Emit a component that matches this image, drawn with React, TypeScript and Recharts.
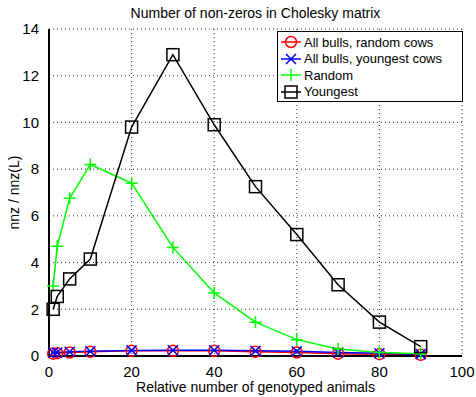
import React from 'react';
import { LineChart, Line, XAxis, YAxis, CartesianGrid } from 'recharts';

const xValues = [1, 2, 5, 10, 20, 30, 40, 50, 60, 70, 80, 90];
const bullsRandom = [0.1, 0.12, 0.15, 0.18, 0.22, 0.22, 0.22, 0.18, 0.15, 0.1, 0.08, 0.05];
const bullsYoungest = [0.15, 0.15, 0.18, 0.2, 0.24, 0.25, 0.25, 0.22, 0.2, 0.15, 0.12, 0.08];
const random = [3.0, 4.7, 6.75, 8.2, 7.4, 4.65, 2.7, 1.45, 0.7, 0.3, 0.15, 0.1];
const youngest = [2.0, 2.55, 3.3, 4.15, 9.8, 12.9, 9.9, 7.25, 5.2, 3.05, 1.45, 0.4];

const xTicks = [0, 20, 40, 60, 80, 100];
const yTicks = [0, 2, 4, 6, 8, 10, 12, 14];

const data = xValues.map((x, i) => ({
  x,
  bullsRandom: bullsRandom[i],
  bullsYoungest: bullsYoungest[i],
  random: random[i],
  youngest: youngest[i],
}));

const FONT = '"Liberation Sans", Arial, sans-serif';

const Circle = (props: any) => {
  const { cx, cy, index } = props;
  return <circle key={`c-${index}`} cx={cx} cy={cy} r={5.5} fill="none" stroke="#ff0000" strokeWidth={1.5} />;
};
const Cross = (props: any) => {
  const { cx, cy, index } = props;
  const s = 5;
  return (
    <path key={`x-${index}`} d={`M${cx - s},${cy - s}L${cx + s},${cy + s}M${cx - s},${cy + s}L${cx + s},${cy - s}`} stroke="#0000ff" strokeWidth={1.5} />
  );
};
const Plus = (props: any) => {
  const { cx, cy, index } = props;
  const s = 6;
  return <path key={`p-${index}`} d={`M${cx - s},${cy}L${cx + s},${cy}M${cx},${cy - s}L${cx},${cy + s}`} stroke="#00ff00" strokeWidth={1.5} />;
};
const Square = (props: any) => {
  const { cx, cy, index } = props;
  const s = 6;
  return <rect key={`s-${index}`} x={cx - s} y={cy - s} width={2 * s} height={2 * s} fill="none" stroke="#000" strokeWidth={1.5} />;
};

const legendItems = [
  { label: 'All bulls, random cows', color: '#ff0000', mark: 'circle' },
  { label: 'All bulls, youngest cows', color: '#0000ff', mark: 'cross' },
  { label: 'Random', color: '#00ff00', mark: 'plus' },
  { label: 'Youngest', color: '#000000', mark: 'square' },
];

function LegendMark({ color, mark }: { color: string; mark: string }) {
  return (
    <svg width={22} height={14} style={{ display: 'block' }}>
      <line x1={1} y1={7} x2={21} y2={7} stroke={color} strokeWidth={1.5} />
      {mark === 'circle' && <circle cx={11} cy={7} r={5.5} fill="none" stroke={color} strokeWidth={1.5} />}
      {mark === 'cross' && <path d="M6,2L16,12M6,12L16,2" stroke={color} strokeWidth={1.5} />}
      {mark === 'plus' && <path d="M11,1L11,13" stroke={color} strokeWidth={1.5} />}
      {mark === 'square' && <rect x={5} y={1} width={12} height={12} fill="none" stroke={color} strokeWidth={1.5} />}
    </svg>
  );
}

export default function App() {
  return (
    <div style={{ position: 'fixed', left: 0, top: 0, width: 476, height: 397, background: '#fff', fontFamily: FONT }}>
      <div style={{ position: 'absolute', top: 5, left: 49, width: 413, textAlign: 'center', fontSize: 14, color: '#000' }}>
        Number of non-zeros in Cholesky matrix
      </div>
      <LineChart width={476} height={397} data={data} margin={{ top: 29, right: 14, bottom: 0, left: 0 }}>
        <CartesianGrid stroke="#333" strokeDasharray="1 3" strokeWidth={1} />
        <XAxis
          dataKey="x"
          type="number"
          domain={[0, 100]}
          ticks={xTicks}
          tickLine={false}
          axisLine={{ stroke: '#000', strokeWidth: 2 }}
          tick={{ fill: '#000', fontSize: 15, fontFamily: FONT }}
          tickMargin={4}
          height={41}
          label={{ value: 'Relative number of genotyped animals', position: 'insideBottom', offset: 5, fill: '#000', fontSize: 14, fontFamily: FONT }}
        />
        <XAxis xAxisId="top" orientation="top" type="number" domain={[0, 100]} ticks={xTicks} tick={false} tickLine={false} axisLine={{ stroke: '#000', strokeWidth: 2 }} height={0} />
        <YAxis
          type="number"
          domain={[0, 14]}
          ticks={yTicks}
          tickLine={false}
          axisLine={{ stroke: '#000', strokeWidth: 2 }}
          tick={{ fill: '#000', fontSize: 15, fontFamily: FONT }}
          tickMargin={4}
          width={49}
          label={{ value: 'nnz / nnz(L)', angle: -90, position: 'insideLeft', offset: 14, fill: '#000', fontSize: 14, fontFamily: FONT, style: { textAnchor: 'middle' } }}
        />
        <YAxis yAxisId="right" orientation="right" type="number" domain={[0, 14]} ticks={yTicks} tick={false} tickLine={false} axisLine={{ stroke: '#000', strokeWidth: 2 }} width={0} />
        <Line dataKey="bullsRandom" stroke="#ff0000" strokeWidth={1.5} dot={Circle} isAnimationActive={false} />
        <Line dataKey="bullsYoungest" stroke="#0000ff" strokeWidth={1.5} dot={Cross} isAnimationActive={false} />
        <Line dataKey="random" stroke="#00ff00" strokeWidth={1.5} dot={Plus} isAnimationActive={false} />
        <Line dataKey="youngest" stroke="#000" strokeWidth={1.5} dot={Square} isAnimationActive={false} />
      </LineChart>
      <div
        style={{
          position: 'absolute',
          left: 277,
          top: 31,
          width: 186,
          height: 71,
          background: '#fff',
          border: '1px solid #000',
          boxSizing: 'border-box',
          padding: '2px 0 0 2px',
          fontSize: 13,
        }}
      >
        {legendItems.map((it) => (
          <div key={it.label} style={{ display: 'flex', alignItems: 'center', height: 16.5 }}>
            <LegendMark color={it.color} mark={it.mark} />
            <span style={{ marginLeft: 2 }}>{it.label}</span>
          </div>
        ))}
      </div>
    </div>
  );
}
